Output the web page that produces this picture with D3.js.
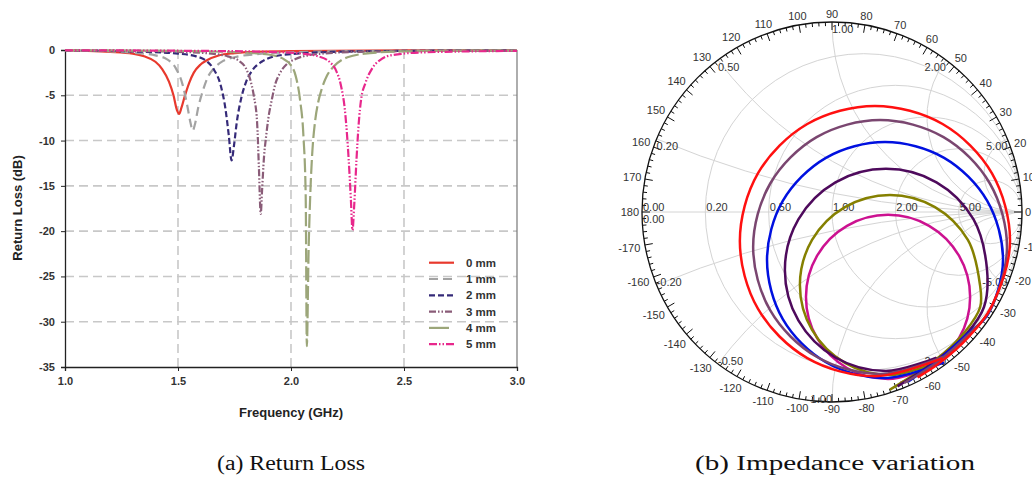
<!DOCTYPE html>
<html>
<head>
<meta charset="utf-8">
<script src="https://cdn.jsdelivr.net/npm/d3@7"></script>
<style>
  body { margin: 0; background: #fff; }
  svg { display: block; }
</style>
</head>
<body>
<svg id="fig" width="1032" height="479"></svg>
<script>
// ---- (a) return loss data ----
const freqTicks = [1.0, 1.5, 2.0, 2.5, 3.0];
const lossTicks = [0, -5, -10, -15, -20, -25, -30, -35];
const seriesNames = ["0 mm", "1 mm", "2 mm", "3 mm", "4 mm", "5 mm"];

const rl0 = [[1.0,-0.05],[1.1,-0.1],[1.2,-0.2],[1.3,-0.4],[1.35,-0.7],[1.40,-1.3],[1.43,-2.1],[1.46,-3.5],[1.48,-5.0],[1.495,-6.6],[1.505,-7.05],[1.515,-6.4],[1.53,-5.1],[1.55,-3.6],[1.57,-2.5],[1.60,-1.6],[1.63,-1.1],[1.68,-0.6],[1.75,-0.35],[1.85,-0.2],[2.0,-0.12],[2.5,-0.05],[3.0,-0.03]];
const rl1 = [[1.0,-0.05],[1.2,-0.15],[1.3,-0.3],[1.4,-0.6],[1.45,-1.0],[1.49,-2.0],[1.52,-3.8],[1.54,-6.0],[1.555,-8.0],[1.565,-8.9],[1.575,-8.2],[1.59,-6.3],[1.61,-4.5],[1.63,-3.1],[1.66,-2.0],[1.70,-1.2],[1.75,-0.8],[1.85,-0.45],[2.0,-0.25],[2.3,-0.12],[3.0,-0.05]];
const rl2 = [[1.0,-0.05],[1.2,-0.1],[1.4,-0.25],[1.5,-0.4],[1.58,-0.7],[1.63,-1.3],[1.66,-2.2],[1.69,-4.0],[1.71,-6.5],[1.725,-9.5],[1.737,-12.2],[1.748,-10.5],[1.76,-8.0],[1.78,-5.3],[1.80,-3.6],[1.83,-2.2],[1.87,-1.3],[1.92,-0.75],[2.0,-0.45],[2.2,-0.2],[2.5,-0.1],[3.0,-0.05]];
const rl3 = [[1.0,-0.05],[1.3,-0.1],[1.5,-0.2],[1.65,-0.4],[1.72,-0.7],[1.77,-1.2],[1.80,-2.0],[1.82,-3.3],[1.835,-5.0],[1.85,-8.0],[1.858,-13.0],[1.866,-18.1],[1.872,-15.5],[1.88,-12.0],[1.89,-9.5],[1.90,-7.5],[1.915,-5.5],[1.93,-3.8],[1.95,-2.6],[1.98,-1.6],[2.02,-1.0],[2.1,-0.5],[2.3,-0.2],[3.0,-0.05]];
const rl4 = [[1.0,-0.03],[1.5,-0.1],[1.8,-0.3],[1.9,-0.5],[1.96,-0.9],[2.0,-1.7],[2.02,-2.8],[2.04,-5.5],[2.055,-9.5],[2.065,-16.0],[2.07,-32.7],[2.078,-22.0],[2.086,-15.5],[2.095,-11.0],[2.106,-8.0],[2.12,-5.8],[2.136,-4.3],[2.16,-2.8],[2.19,-1.8],[2.25,-0.8],[2.35,-0.35],[2.5,-0.15],[3.0,-0.05]];
const rl5 = [[1.0,-0.03],[1.5,-0.08],[1.9,-0.2],[2.05,-0.4],[2.12,-0.7],[2.17,-1.3],[2.2,-2.3],[2.22,-3.8],[2.24,-7.0],[2.255,-12.0],[2.265,-16.5],[2.272,-19.9],[2.28,-17.0],[2.29,-12.0],[2.30,-8.0],[2.31,-5.5],[2.33,-3.6],[2.36,-2.0],[2.40,-1.0],[2.45,-0.55],[2.6,-0.25],[3.0,-0.1]];

// ---- (b) smith chart data: reflection coefficient (re, im) ----
const smithRes = [0.2, 0.5, 1, 2, 5];
const smithReact = [0.2, 0.5, 1, 2, 5, -0.2, -0.5, -1, -2, -5];
const angleLabels = d3.range(-170, 181, 10);

const gRed = [[0.45,-0.87],[0.560,-0.799],[0.724,-0.652],[0.844,-0.488],[0.937,-0.153],[0.842,0.203],[0.582,0.463],[0.226,0.558],[-0.130,0.463],[-0.390,0.203],[-0.485,-0.153],[-0.390,-0.509],[-0.130,-0.769],[0.226,-0.864],[0.582,-0.769]];
const gMauve = [[0.38,-0.90],[0.554,-0.790],[0.717,-0.646],[0.831,-0.518],[0.921,-0.184],[0.831,0.150],[0.587,0.394],[0.253,0.484],[-0.081,0.394],[-0.325,0.150],[-0.415,-0.184],[-0.325,-0.518],[-0.081,-0.762],[0.253,-0.852],[0.587,-0.762]];
const gBlue = [[0.40,-0.893],[0.551,-0.786],[0.713,-0.642],[0.820,-0.540],[0.900,-0.253],[0.817,0.058],[0.590,0.285],[0.279,0.368],[-0.032,0.285],[-0.259,0.058],[-0.342,-0.253],[-0.259,-0.564],[-0.032,-0.791],[0.279,-0.874],[0.590,-0.791]];
const gPurple = [[0.345,-0.918],[0.548,-0.782],[0.710,-0.639],[0.800,-0.500],[0.816,-0.305],[0.745,-0.039],[0.550,0.156],[0.284,0.227],[0.018,0.156],[-0.177,-0.039],[-0.248,-0.305],[-0.177,-0.571],[0.018,-0.766],[0.284,-0.837],[0.550,-0.766]];
const gOlive = [[0.305,-0.935],[0.545,-0.778],[0.700,-0.630],[0.780,-0.500],[0.779,-0.384],[0.715,-0.147],[0.542,0.026],[0.305,0.090],[0.068,0.026],[-0.105,-0.147],[-0.169,-0.384],[-0.105,-0.621],[0.068,-0.794],[0.305,-0.858],[0.542,-0.794]];
const gMagenta = [[0.36,-0.90],[0.511,-0.821],[0.669,-0.663],[0.727,-0.447],[0.669,-0.231],[0.511,-0.073],[0.295,-0.015],[0.079,-0.073],[-0.079,-0.231],[-0.137,-0.447],[-0.079,-0.663],[0.079,-0.821],[0.295,-0.879],[0.511,-0.821]];

const svg = d3.select("#fig");
const sans = "'Liberation Sans', Arial, sans-serif";

// ================= (a) Return Loss =================
const x = d3.scaleLinear().domain([1, 3]).range([65, 517]);
const y = d3.scaleLinear().domain([-35, 0]).range([367, 50]);

const left = svg.append("g");

// dashed grid
left.selectAll("line.hgrid").data(lossTicks.filter(d => d < 0 && d > -35)).enter()
  .append("line")
  .attr("x1", x(1)).attr("x2", x(3))
  .attr("y1", d => y(d)).attr("y2", d => y(d))
  .attr("stroke", "#c8c8c8").attr("stroke-width", 1.6).attr("stroke-dasharray", "9,5");
left.selectAll("line.vgrid").data(freqTicks.filter(d => d > 1 && d < 3)).enter()
  .append("line")
  .attr("x1", d => x(d)).attr("x2", d => x(d))
  .attr("y1", y(0)).attr("y2", y(-35))
  .attr("stroke", "#c8c8c8").attr("stroke-width", 1.6).attr("stroke-dasharray", "9,5");

// frame right side
left.append("line").attr("x1", x(3)).attr("x2", x(3)).attr("y1", y(0)).attr("y2", y(-35))
  .attr("stroke", "#777").attr("stroke-width", 1.2);

// axes
const xAxis = left.append("g").attr("transform", `translate(0,${y(-35)})`)
  .call(d3.axisBottom(x).tickValues(freqTicks).tickFormat(d3.format(".1f")).tickSize(4).tickPadding(6));
const yAxis = left.append("g").attr("transform", `translate(${x(1)},0)`)
  .call(d3.axisLeft(y).tickValues(lossTicks).tickFormat(d => String(d)).tickSize(4).tickPadding(6));
[xAxis, yAxis].forEach(a => {
  a.select(".domain").attr("stroke", "#222").attr("stroke-width", 1.3);
  a.selectAll(".tick line").attr("stroke", "#222");
  a.selectAll("text").attr("font-family", sans).attr("font-weight", "bold")
    .attr("font-size", 11).attr("fill", "#333");
});

// curves
const styles = [
  { data: rl0, color: "#e8392d", dash: null },
  { data: rl1, color: "#a3a3a3", dash: "9,5" },
  { data: rl2, color: "#352a78", dash: "6,3" },
  { data: rl3, color: "#8a5c78", dash: "7,2,1.5,2,1.5,2" },
  { data: rl4, color: "#9ca67a", dash: "14,4" },
  { data: rl5, color: "#e8288c", dash: "8,2,1.5,2,1.5,2" }
];
const rlLine = d3.line().x(d => x(d[0])).y(d => y(d[1])).curve(d3.curveMonotoneX);
styles.forEach(s => {
  left.append("path").attr("d", rlLine(s.data))
    .attr("fill", "none").attr("stroke", s.color).attr("stroke-width", 2.2)
    .attr("stroke-dasharray", s.dash);
});

// legend
styles.forEach((s, i) => {
  const ly = 262.7 + i * 16.3;
  left.append("line").attr("x1", 429).attr("x2", 454).attr("y1", ly).attr("y2", ly)
    .attr("stroke", s.color).attr("stroke-width", 2.2)
    .attr("stroke-dasharray", i === 4 ? "20,5" : s.dash);
  left.append("text").attr("x", 466).attr("y", ly + 4).text(seriesNames[i])
    .attr("font-family", sans).attr("font-weight", "bold").attr("font-size", 11.5).attr("fill", "#333");
});

// axis titles
left.append("text").attr("x", 291).attr("y", 417).attr("text-anchor", "middle")
  .attr("font-family", sans).attr("font-weight", "bold").attr("font-size", 13).attr("fill", "#222")
  .text("Frequency (GHz)");
left.append("text").attr("transform", "translate(22,208) rotate(-90)").attr("text-anchor", "middle")
  .attr("font-family", sans).attr("font-weight", "bold").attr("font-size", 13).attr("fill", "#222")
  .text("Return Loss (dB)");

// ================= (b) Smith chart =================
const cx = 832, cy = 212, R = 190;
const sx = d3.scaleLinear().domain([-1, 1]).range([cx - R, cx + R]);
const sy = d3.scaleLinear().domain([-1, 1]).range([cy + R, cy - R]);
const right = svg.append("g");
const gridColor = "#d4d4d4";

// horizontal axis
right.append("line").attr("x1", sx(-1)).attr("x2", sx(1)).attr("y1", cy).attr("y2", cy)
  .attr("stroke", gridColor).attr("stroke-width", 1);

// resistance circles
right.selectAll("circle.res").data(smithRes).enter().append("circle")
  .attr("cx", r => sx(r / (1 + r))).attr("cy", cy)
  .attr("r", r => R / (1 + r))
  .attr("fill", "none").attr("stroke", gridColor).attr("stroke-width", 1);

// reactance arcs from rim to (1,0)
const rimPoint = xv => [(xv * xv - 1) / (xv * xv + 1), 2 * xv / (xv * xv + 1)];
right.selectAll("path.react").data(smithReact).enter().append("path")
  .attr("d", xv => {
    const p = rimPoint(xv);
    const rad = R / Math.abs(xv);
    return `M${sx(p[0])},${sy(p[1])} A${rad},${rad} 0 0 ${xv > 0 ? 0 : 1} ${sx(1)},${sy(0)}`;
  })
  .attr("fill", "none").attr("stroke", gridColor).attr("stroke-width", 1);

// outer rim and degree ticks
right.append("circle").attr("cx", cx).attr("cy", cy).attr("r", R)
  .attr("fill", "none").attr("stroke", "#111").attr("stroke-width", 1.3);
right.selectAll("line.tick").data(d3.range(0, 360, 2)).enter().append("line")
  .attr("x1", a => cx + R * Math.cos(a * Math.PI / 180))
  .attr("y1", a => cy - R * Math.sin(a * Math.PI / 180))
  .attr("x2", a => cx + (R - (a % 10 === 0 ? 8 : 4)) * Math.cos(a * Math.PI / 180))
  .attr("y2", a => cy - (R - (a % 10 === 0 ? 8 : 4)) * Math.sin(a * Math.PI / 180))
  .attr("stroke", "#111").attr("stroke-width", 1);

// degree labels
right.selectAll("text.deg").data(angleLabels).enter().append("text")
  .each(function (a) {
    const t = a * Math.PI / 180;
    const w = String(a).length * 6.1;
    const rr = R + 3 + (w / 2) * Math.abs(Math.cos(t)) + 4.5 * Math.abs(Math.sin(t));
    d3.select(this).attr("x", cx + rr * Math.cos(t)).attr("y", cy - rr * Math.sin(t));
  })
  .attr("text-anchor", "middle").attr("dy", "0.35em")
  .attr("font-family", sans).attr("font-size", 11).attr("fill", "#333")
  .text(a => String(a));

// resistance labels
const labelFont = el => el.attr("font-family", sans).attr("font-size", 11).attr("fill", "#333");
right.append("text").attr("x", sx(-1) + 1).attr("y", cy - 1).text("0.00").call(labelFont);
right.append("text").attr("x", sx(-1) + 1).attr("y", cy + 11).text("0.00").call(labelFont);
right.selectAll("text.rl").data(smithRes).enter().append("text")
  .attr("x", r => sx((r - 1) / (r + 1)) + 1).attr("y", cy - 1)
  .text(r => r.toFixed(2)).call(labelFont);

// reactance labels
right.selectAll("text.xl").data(smithReact).enter().append("text")
  .attr("x", xv => sx(rimPoint(xv)[0]))
  .attr("y", xv => sy(rimPoint(xv)[1]) + (xv > 0 ? 11 : 1))
  .attr("text-anchor", xv => (xv > 0 ? xv <= 1 : Math.abs(xv) < 1) ? "start" : "end")
  .text(xv => xv.toFixed(2)).call(labelFont);

// impedance loci
const smithLine = d3.line().x(d => sx(d[0])).y(d => sy(d[1])).curve(d3.curveCatmullRom.alpha(0.5));
const loci = [
  { data: gMagenta, color: "#cc1190" },
  { data: gOlive, color: "#858000" },
  { data: gPurple, color: "#4e0a5c" },
  { data: gBlue, color: "#0010e0" },
  { data: gMauve, color: "#7a4670" },
  { data: gRed, color: "#ff1010" }
];
loci.forEach(l => {
  right.append("path").attr("d", smithLine(l.data))
    .attr("fill", "none").attr("stroke", l.color).attr("stroke-width", 2.5);
});

// ================= captions =================
const serif = "'Liberation Serif', 'DejaVu Serif', serif";
svg.append("text").attr("x", 291).attr("y", 470).attr("text-anchor", "middle")
  .attr("font-family", serif).attr("font-size", 20).attr("fill", "#111")
  .attr("textLength", 148).attr("lengthAdjust", "spacingAndGlyphs")
  .text("(a) Return Loss");
svg.append("text").attr("x", 835).attr("y", 470).attr("text-anchor", "middle")
  .attr("font-family", serif).attr("font-size", 20).attr("fill", "#111")
  .attr("textLength", 280).attr("lengthAdjust", "spacingAndGlyphs")
  .text("(b) Impedance variation");
</script>
</body>
</html>
